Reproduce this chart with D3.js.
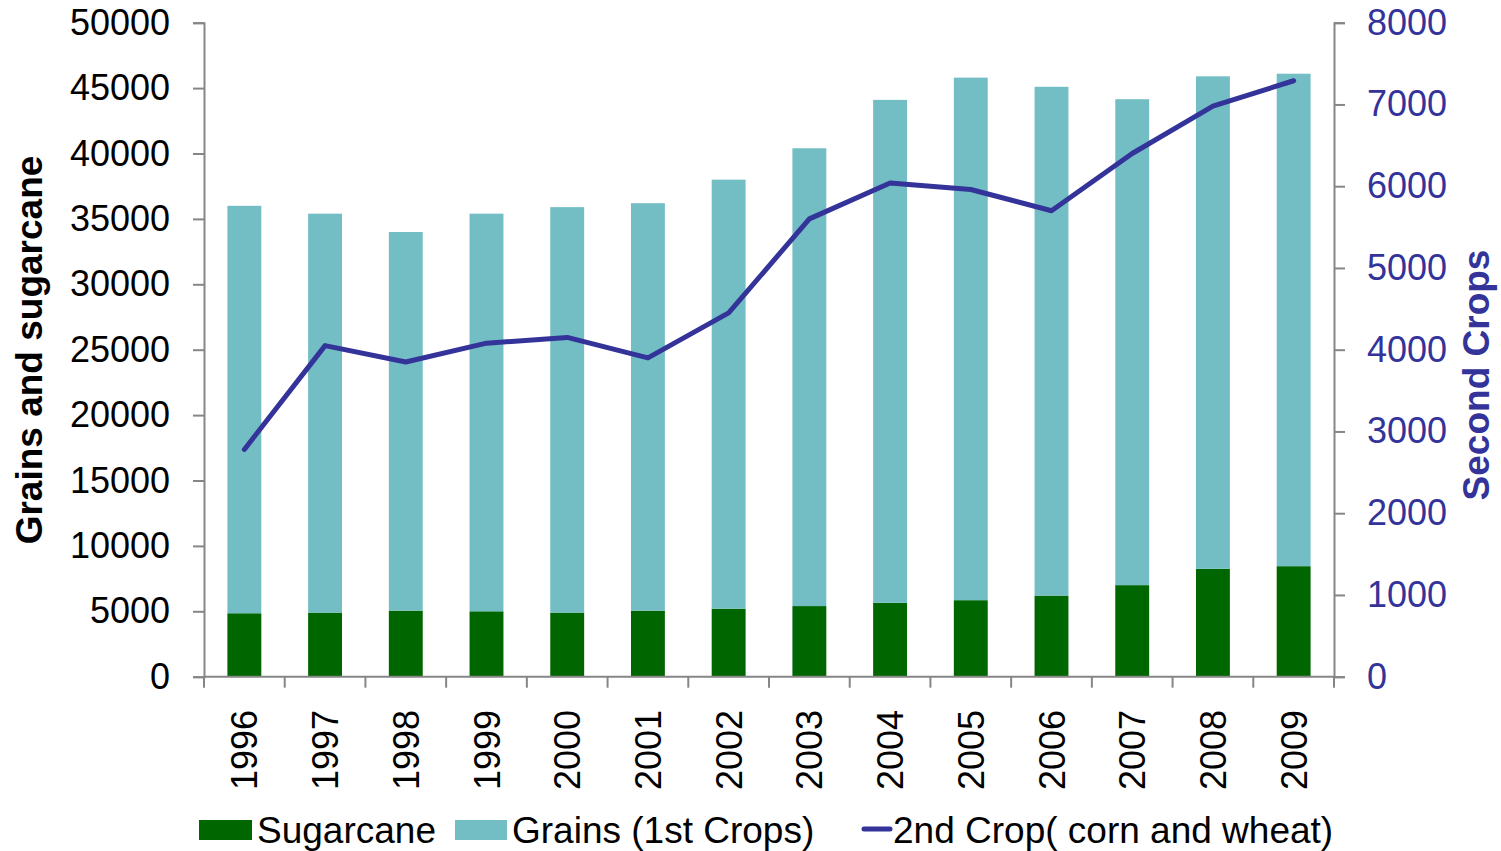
<!DOCTYPE html>
<html>
<head>
<meta charset="utf-8">
<script src="https://cdn.jsdelivr.net/npm/d3@7"></script>
<style>
  html, body { margin: 0; padding: 0; background: #fff; }
  svg { display: block; font-family: "Liberation Sans", Arial, sans-serif; }
  .axis path, .axis line { stroke: #868686; stroke-width: 2; }
</style>
</head>
<body>
<div id="chart"></div>
<script>
/* Grains, sugarcane and second crops - combo chart */

// ============================================
// Data
// ============================================

const years = ['1996', '1997', '1998', '1999', '2000', '2001', '2002',
               '2003', '2004', '2005', '2006', '2007', '2008', '2009'];

const sugarcane = [4850, 4900, 5050, 5000, 4900, 5050, 5200,
                   5400, 5650, 5850, 6200, 7000, 8250, 8450];

const grains = [31150, 30500, 28950, 30400, 31000, 31150, 32800,
                35000, 38450, 39950, 38900, 37150, 37650, 37650];

const secondCrop = [2780, 4050, 3850, 4080, 4150, 3900, 4450,
                    5600, 6040, 5960, 5700, 6400, 6980, 7290];

const leftTicks = [0, 5000, 10000, 15000, 20000, 25000, 30000, 35000, 40000, 45000, 50000];
const rightTicks = [0, 1000, 2000, 3000, 4000, 5000, 6000, 7000, 8000];

const colors = {
  sugarcane: '#006600',
  grains: '#73BEC4',
  line: '#333399',
  axis: '#868686',
  text: '#000000'
};

// ============================================
// Setup
// ============================================

const width = 1501, height = 851;
const plot = { left: 204, right: 1334, top: 22.7, bottom: 676.7 };

const svg = d3.select('#chart')
  .append('svg')
  .attr('width', width)
  .attr('height', height);

const x = d3.scaleBand()
  .domain(years)
  .range([plot.left, plot.right])
  .paddingInner(0.58)
  .paddingOuter(0.29);

const yLeft = d3.scaleLinear().domain([0, 50000]).range([plot.bottom, plot.top]);
const yRight = d3.scaleLinear().domain([0, 8000]).range([plot.bottom, plot.top]);

const rows = years.map((year, i) => ({ year, sugarcane: sugarcane[i], grains: grains[i] }));
const stacked = d3.stack().keys(['sugarcane', 'grains'])(rows);

// ============================================
// Bars
// ============================================

svg.append('g')
  .selectAll('g')
  .data(stacked)
  .join('g')
  .attr('fill', d => colors[d.key])
  .selectAll('rect')
  .data(d => d)
  .join('rect')
  .attr('x', d => x(d.data.year))
  .attr('width', x.bandwidth())
  .attr('y', d => yLeft(d[1]))
  .attr('height', d => yLeft(d[0]) - yLeft(d[1]));

// ============================================
// Axes
// ============================================

const leftAxis = svg.append('g')
  .attr('class', 'axis')
  .attr('transform', `translate(${plot.left},0)`)
  .call(d3.axisLeft(yLeft).tickValues(leftTicks).tickSize(11).tickPadding(23).tickFormat(d3.format('d')));

leftAxis.selectAll('text')
  .attr('fill', colors.text)
  .style('font-size', '36px');

const rightAxis = svg.append('g')
  .attr('class', 'axis')
  .attr('transform', `translate(${plot.right},0)`)
  .call(d3.axisRight(yRight).tickValues(rightTicks).tickSize(11).tickPadding(22).tickFormat(d3.format('d')));

rightAxis.selectAll('text')
  .attr('fill', colors.line)
  .style('font-size', '36px');

// x axis: ticks sit on category boundaries
const gap = (x.step() - x.bandwidth()) / 2;
const boundaries = years.map(y => x(y) - gap).concat([x(years[years.length - 1]) + x.bandwidth() + gap]);

const xAxis = svg.append('g').attr('class', 'axis');

xAxis.append('line')
  .attr('x1', plot.left).attr('x2', plot.right)
  .attr('y1', plot.bottom).attr('y2', plot.bottom);

xAxis.selectAll('.xtick')
  .data(boundaries)
  .join('line')
  .attr('class', 'xtick')
  .attr('x1', d => d).attr('x2', d => d)
  .attr('y1', plot.bottom).attr('y2', plot.bottom + 11);

svg.append('g')
  .selectAll('text')
  .data(years)
  .join('text')
  .attr('transform', d => `translate(${x(d) + x.bandwidth() / 2 + 13},710) rotate(-90)`)
  .attr('text-anchor', 'end')
  .attr('fill', colors.text)
  .style('font-size', '36px')
  .text(d => d);

// ============================================
// Line (right axis)
// ============================================

const line = d3.line()
  .x((d, i) => x(years[i]) + x.bandwidth() / 2)
  .y(d => yRight(d));

svg.append('path')
  .datum(secondCrop)
  .attr('fill', 'none')
  .attr('stroke', colors.line)
  .attr('stroke-width', 5)
  .attr('stroke-linejoin', 'round')
  .attr('stroke-linecap', 'round')
  .attr('d', line);

// ============================================
// Axis titles
// ============================================

svg.append('text')
  .attr('transform', 'translate(42,350) rotate(-90)')
  .attr('text-anchor', 'middle')
  .attr('fill', colors.text)
  .style('font-size', '37px')
  .style('font-weight', 'bold')
  .text('Grains and sugarcane');

svg.append('text')
  .attr('transform', 'translate(1489,375) rotate(-90)')
  .attr('text-anchor', 'middle')
  .attr('fill', colors.line)
  .style('font-size', '37px')
  .style('font-weight', 'bold')
  .text('Second Crops');

// ============================================
// Legend
// ============================================

const legend = svg.append('g').style('font-size', '37px');

legend.append('rect')
  .attr('x', 199).attr('y', 820).attr('width', 53).attr('height', 20)
  .attr('fill', colors.sugarcane);
legend.append('text')
  .attr('x', 257).attr('y', 843).attr('fill', colors.text)
  .text('Sugarcane');

legend.append('rect')
  .attr('x', 455).attr('y', 820).attr('width', 52).attr('height', 20)
  .attr('fill', colors.grains);
legend.append('text')
  .attr('x', 512).attr('y', 843).attr('fill', colors.text)
  .text('Grains (1st Crops)');

legend.append('line')
  .attr('x1', 864).attr('x2', 890).attr('y1', 829).attr('y2', 829)
  .attr('stroke', colors.line).attr('stroke-width', 5).attr('stroke-linecap', 'round');
legend.append('text')
  .attr('x', 893).attr('y', 843).attr('fill', colors.text)
  .text('2nd Crop( corn and wheat)');
</script>
</body>
</html>
